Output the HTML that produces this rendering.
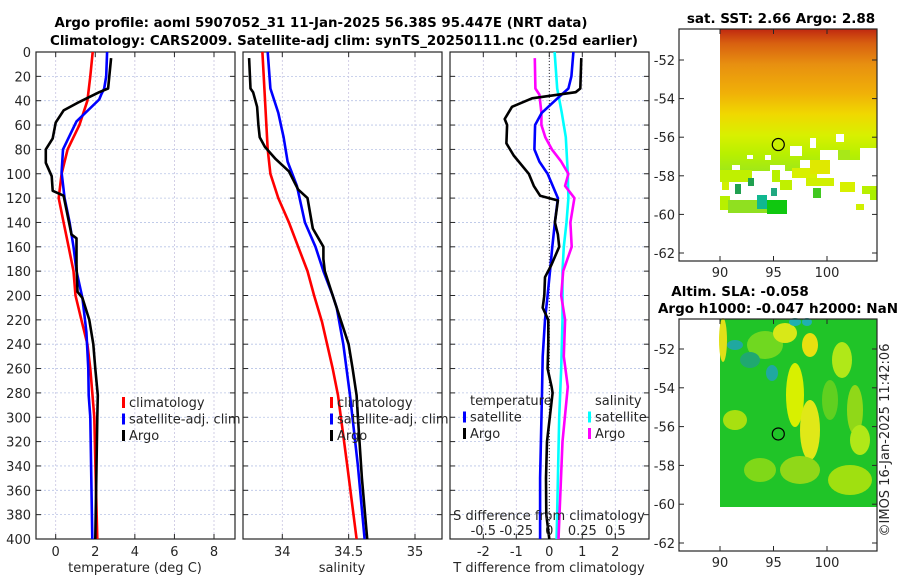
<!DOCTYPE html>
<html><head><meta charset="utf-8"><style>
html,body{margin:0;padding:0;background:#fff;}
svg{display:block;font-family:"DejaVu Sans","Liberation Sans",sans-serif;}
.tk{font-size:13px;fill:#262626;}
.tt{font-size:13.5px;font-weight:bold;fill:#000;}
</style></head><body>
<svg id="fig" width="900" height="580" viewBox="0 0 900 580">
<text class="tt" x="321" y="27" text-anchor="middle" textLength="533" lengthAdjust="spacingAndGlyphs">Argo profile: aoml 5907052_31 11-Jan-2025 56.38S 95.447E (NRT data)</text>
<text class="tt" x="344" y="45" text-anchor="middle" textLength="588" lengthAdjust="spacingAndGlyphs">Climatology: CARS2009. Satellite-adj clim: synTS_20250111.nc (0.25d earlier)</text>
<g id="p1"></g>
<g id="p2"></g>
<g id="p3"></g>
<g id="m1"></g>
<g id="m2"></g>
<text class="tk" transform="translate(889,440) rotate(-90)" text-anchor="middle">©IMOS 16-Jan-2025 11:42:06</text>
</svg>
<script>
// depth ticks
const depthTicks=[0,20,40,60,80,100,120,140,160,180,200,220,240,260,280,300,320,340,360,380,400];
// Panel 1: temperature
const tTicks=[0,2,4,6,8];
const tClimD=[0,20,40,60,80,100,120,140,160,180,200,220,240,260,280,300,350,400];
const tClim=[1.87,1.75,1.6,1.2,0.6,0.3,0.15,0.4,0.65,0.9,1.0,1.3,1.6,1.75,1.85,1.95,2.02,2.1];
const tSatD=[0,20,30,35,39,57,80,99,120,140,160,180,202,230,260,282,300,350,400];
const tSat=[2.6,2.55,2.45,2.3,2.2,1.05,0.37,0.3,0.45,0.7,0.9,1.05,1.35,1.55,1.65,1.67,1.75,1.8,1.85];
const tArgoD=[5,30,33,41,48,58,71,80,91,102,114,118,150,153,175,197,202,220,240,260,282,300,350,400];
const tArgo=[2.8,2.65,2.2,1.2,0.4,0.0,-0.15,-0.5,-0.5,-0.2,-0.15,0.4,0.8,1.05,1.05,1.1,1.35,1.7,1.9,2.0,2.13,2.1,2.05,2.0];
// Panel 2: salinity
const sTicks=[34,34.5,35];
const sClimD=[0,80,100,120,140,160,180,200,222,260,282,340,400];
const sClim=[33.85,33.89,33.91,33.97,34.05,34.12,34.19,34.24,34.30,34.38,34.42,34.49,34.56];
const sSatD=[0,30,50,70,90,110,140,160,180,200,210,240,282,340,400];
const sSat=[33.89,33.91,33.97,34.01,34.04,34.11,34.17,34.25,34.31,34.38,34.41,34.46,34.51,34.57,34.62];
const sArgoD=[5,30,33,45,60,70,78,88,98,113,120,145,160,170,180,200,240,260,282,300,350,400];
const sArgo=[33.75,33.76,33.78,33.81,33.82,33.83,33.87,33.95,34.05,34.12,34.19,34.23,34.31,34.31,34.32,34.38,34.5,34.53,34.56,34.57,34.6,34.64];
// Panel 3: differences
const dTTicks=[-2,-1,0,1,2];
const dSTicks=[-0.5,-0.25,0,0.25,0.5];
const dSTickLabels=["-0.5","-0.25","0","0.25","0.5"];
const dTSatD=[0,20,30,40,50,60,80,90,100,120,140,160,180,200,220,250,280,350,400];
const dTSat=[0.73,0.67,0.58,0.17,-0.23,-0.43,-0.45,-0.3,-0.05,0.26,0.17,0.09,0.02,-0.05,-0.13,-0.2,-0.22,-0.28,-0.28];
const dTArgoD=[5,30,33,38,45,55,60,75,85,100,110,118,122,140,150,160,175,185,200,210,220,240,260,275,280,320,350,380,400];
const dTArgo=[0.97,0.94,0.8,-0.52,-1.13,-1.35,-1.28,-1.3,-1.08,-0.62,-0.47,-0.28,0.26,0.17,0.26,0.3,0.06,-0.13,-0.15,-0.2,-0.03,-0.03,-0.05,0.07,0.1,-0.07,-0.1,-0.09,0.0];
const dSSatD=[0,30,50,70,100,120,140,160,180,220,260,300,350,400];
const dSSat=[0.04,0.06,0.095,0.125,0.14,0.145,0.13,0.11,0.1,0.1,0.09,0.075,0.065,0.055];
const dSArgoD=[5,30,35,50,60,70,80,90,100,110,120,140,160,180,200,220,250,275,320,400];
const dSArgo=[-0.11,-0.105,-0.075,-0.06,-0.06,-0.03,0.02,0.09,0.145,0.12,0.19,0.16,0.17,0.105,0.09,0.12,0.11,0.14,0.1,0.07];
// Map axes
const lonTicks=[90,95,100];
const latTicks=[-52,-54,-56,-58,-60,-62];
const argoLon=95.447, argoLat=-56.38;

const NS="http://www.w3.org/2000/svg";
function mk(parent,tag,attrs){const e=document.createElementNS(NS,tag);for(const k in attrs)e.setAttribute(k,attrs[k]);parent.appendChild(e);return e;}
const Y0=52,Y1=539;
function yD(d){return Y0+(Y1-Y0)*d/400;}
function lin(d0,d1,r0,r1){return v=>r0+(v-d0)*(r1-r0)/(d1-d0);}

function frame(g,x0,x1,xTicks,xs,labels,leftLabels){
  depthTicks.forEach(d=>{
    const l=mk(g,'line',{x1:x0,x2:x1,y1:yD(d),y2:yD(d),stroke:'#b8c4e6','stroke-width':0.8,'stroke-dasharray':'2,2'});
    
  });
  xTicks.forEach(t=>{
    const x=xs(t);
    const l=mk(g,'line',{x1:x,x2:x,y1:Y0,y2:Y1,stroke:'#c8c4e0','stroke-width':0.8,'stroke-dasharray':'2,2'});
    
  });
  const r=mk(g,'rect',{x:x0,y:Y0,width:x1-x0,height:Y1-Y0,fill:'none',stroke:'#262626','stroke-width':1.2});
  
  depthTicks.forEach(d=>{
    mk(g,'line',{x1:x0,x2:x0+5,y1:yD(d),y2:yD(d),stroke:'#262626'});
    mk(g,'line',{x1:x1-5,x2:x1,y1:yD(d),y2:yD(d),stroke:'#262626'});
    if(leftLabels){
      const t=mk(g,'text',{x:x0-5,y:yD(d)+5,'text-anchor':'end',class:'tk'});t.textContent=d;
      
    }
  });
  xTicks.forEach((tv,i)=>{
    const x=xs(tv);
    mk(g,'line',{x1:x,x2:x,y1:Y1,y2:Y1-5,stroke:'#262626'});
    mk(g,'line',{x1:x,x2:x,y1:Y0,y2:Y0+5,stroke:'#262626'});
    const t=mk(g,'text',{x:x,y:556,'text-anchor':'middle',class:'tk'});t.textContent=labels?labels[i]:tv;
    
  });
}
function line(g,xs,vals,ds,color,name){
  const pts=vals.map((v,i)=>xs(v).toFixed(1)+','+yD(ds[i]).toFixed(1)).join(' ');
  const p=mk(g,'polyline',{points:pts,fill:'none',stroke:color,'stroke-width':2.6,'stroke-linejoin':'round'});
  
}
function legend(g,x,y,items){
  items.forEach((it,i)=>{
    const yy=y+i*16.5;
    if(it.c){mk(g,'rect',{x:x,y:yy-10,width:3,height:11,fill:it.c});}
    const t=mk(g,'text',{x:x+(it.c?7:0),y:yy,class:'tk'});t.textContent=it.t;
    
  });
}
// Panel 1
const p1=document.getElementById('p1');
const xT=lin(0,8,55.7,214);
frame(p1,36,235,tTicks,xT,null,true);
line(p1,xT,tClim,tClimD,'#ff0000','temp-climatology-line');
line(p1,xT,tSat,tSatD,'#0000ff','temp-satellite-line');
line(p1,xT,tArgo,tArgoD,'#000000','temp-argo-line');
legend(p1,122,407,[{c:'#ff0000',t:'climatology'},{c:'#0000ff',t:'satellite-adj. clim'},{c:'#000',t:'Argo'}]);
let t=mk(p1,'text',{x:135,y:572,'text-anchor':'middle',class:'tk'});t.textContent='temperature (deg C)';

// Panel 2
const p2=document.getElementById('p2');
const xS=lin(34,35,282.3,415);
frame(p2,243,442,sTicks,xS,null,false);
line(p2,xS,sClim,sClimD,'#ff0000','sal-climatology-line');
line(p2,xS,sSat,sSatD,'#0000ff','sal-satellite-line');
line(p2,xS,sArgo,sArgoD,'#000000','sal-argo-line');
legend(p2,330,407,[{c:'#ff0000',t:'climatology'},{c:'#0000ff',t:'satellite-adj. clim'},{c:'#000',t:'Argo'}]);
t=mk(p2,'text',{x:342,y:572,'text-anchor':'middle',class:'tk'});t.textContent='salinity';

// Panel 3
const p3=document.getElementById('p3');
const xDT=lin(0,1,549.3,582.3);
const xDS=v=>xDT(v*4);
frame(p3,450,649,dTTicks,xDT,null,false);
mk(p3,'line',{x1:xDT(0),x2:xDT(0),y1:Y0,y2:Y1,stroke:'#333','stroke-width':1,'stroke-dasharray':'1,2'});
line(p3,xDS,dSSat,dSSatD,'#00ffff','sdiff-satellite-line');
line(p3,xDS,dSArgo,dSArgoD,'#ff00ff','sdiff-argo-line');
line(p3,xDT,dTSat,dTSatD,'#0000ff','tdiff-satellite-line');
line(p3,xDT,dTArgo,dTArgoD,'#000000','tdiff-argo-line');
legend(p3,463,405,[{c:null,t:''},{c:'#0000ff',t:'satellite'},{c:'#000',t:'Argo'}]);
t=mk(p3,'text',{x:470,y:405,class:'tk'});t.textContent='temperature';

legend(p3,588,405,[{c:null,t:''},{c:'#00ffff',t:'satellite'},{c:'#ff00ff',t:'Argo'}]);
t=mk(p3,'text',{x:595,y:405,class:'tk'});t.textContent='salinity';

t=mk(p3,'text',{x:549,y:520,'text-anchor':'middle',class:'tk'});t.textContent='S difference from climatology';

dSTicks.forEach((v,i)=>{const e=mk(p3,'text',{x:xDS(v),y:535,'text-anchor':'middle',class:'tk'});e.textContent=dSTickLabels[i];
});
t=mk(p3,'text',{x:549,y:572,'text-anchor':'middle',class:'tk'});t.textContent='T difference from climatology';


// Maps
function mapFrame(g,y0,y1,lat0,pxPerDeg,drawData,titles,marker){
  const xL=lin(90,100,720,827);
  const yL=v=>lat0+(-52-v)*pxPerDeg;
  drawData(g,xL,yL);
  const r=mk(g,'rect',{x:679,y:y0,width:198,height:y1-y0,fill:'none',stroke:'#262626','stroke-width':1.2});
  
  latTicks.forEach(v=>{const y=yL(v);
    mk(g,'line',{x1:679,x2:684,y1:y,y2:y,stroke:'#262626'});mk(g,'line',{x1:872,x2:877,y1:y,y2:y,stroke:'#262626'});
    const e=mk(g,'text',{x:675,y:y+5,'text-anchor':'end',class:'tk'});e.textContent=v;
    });
  lonTicks.forEach(v=>{const x=xL(v);
    mk(g,'line',{x1:x,x2:x,y1:y1,y2:y1-5,stroke:'#262626'});mk(g,'line',{x1:x,x2:x,y1:y0,y2:y0+5,stroke:'#262626'});
    const e=mk(g,'text',{x:x,y:y1+16,'text-anchor':'middle',class:'tk'});e.textContent=v;
    });
  titles.forEach(tt=>{const e=mk(g,'text',{x:tt[0],y:tt[1],'text-anchor':'middle',class:'tt'});e.textContent=tt[2];
    });
  const c=mk(g,'circle',{cx:xL(argoLon),cy:yL(argoLat),r:6,fill:marker,stroke:'#000','stroke-width':1.2});
  
}
const m1=document.getElementById('m1');
mapFrame(m1,29,261,60,19.3,(g,xL,yL)=>{
  const defs=mk(g,'defs',{});
  const lg=mk(defs,'linearGradient',{id:'sstg',x1:0,y1:0,x2:0,y2:1});
  [[0,'#c02810'],[0.1,'#d86010'],[0.25,'#e89010'],[0.45,'#f0b008'],[0.6,'#f0d800'],[0.75,'#d8f000'],[0.88,'#b8f000'],[1,'#a0e818']].forEach(s=>mk(lg,'stop',{offset:s[0],'stop-color':s[1]}));
  mk(g,'rect',{x:720,y:29,width:157,height:142,fill:'url(#sstg)'});
  const w='#fff';
  [[765,155,6,5],[732,165,8,6],[747,155,6,4],[790,146,12,10],[810,138,6,10],[836,134,8,8],[860,148,17,12],[820,150,20,10],[800,160,77,12],[720,171,6,4],[770,165,15,6]].forEach(b=>mk(g,'rect',{x:b[0],y:b[1],width:b[2],height:b[3],fill:w}));
  [[720,170,32,12,'#c0f000'],[722,182,7,8,'#d0f000'],[772,170,8,12,'#b8f000'],[792,168,25,10,'#d8f000'],[810,160,20,14,'#e0e800'],[838,150,12,10,'#a8e818'],[880,0,0,0,'#fff'],[720,196,10,14,'#b8f000'],[728,200,45,13,'#90e020'],[767,200,20,14,'#10c810'],[757,195,10,14,'#10b890'],[735,184,6,10,'#20a050'],[771,188,6,8,'#20a880'],[780,180,12,10,'#c0f000'],[806,178,28,8,'#d0f000'],[813,188,8,10,'#40c820'],[840,182,15,10,'#d8f000'],[862,186,15,8,'#b8f000'],[856,204,8,6,'#d0f000'],[870,190,7,10,'#a8f000'],[748,178,6,8,'#20a050']].forEach(b=>mk(g,'rect',{x:b[0],y:b[1],width:b[2],height:b[3],fill:b[4]}));
},[[781,23,'sat. SST: 2.66 Argo: 2.88']],'#c8f000');
const m2=document.getElementById('m2');
mapFrame(m2,319,551,349,19.4,(g,xL,yL)=>{
  mk(g,'rect',{x:720,y:319,width:157,height:188,fill:'#20c428'});
  [[765,345,18,14,'#70d820'],[785,333,12,10,'#d8e818'],[810,345,8,12,'#e8e010'],[795,395,9,32,'#d8f000'],[810,430,10,30,'#e0e818'],[842,360,10,18,'#b0e818'],[723,340,4,22,'#e0e018'],[735,420,12,10,'#a8e010'],[760,470,16,12,'#80d818'],[855,410,8,25,'#90d818'],[830,400,8,20,'#60d020'],[800,470,20,14,'#90d818'],[850,480,22,15,'#a0e010'],[860,440,10,15,'#b0e818']].forEach(e=>mk(g,'ellipse',{cx:e[0],cy:e[1],rx:e[2],ry:e[3],fill:e[4]}));
  [[735,345,8,5,'#20a8a0'],[772,373,6,8,'#20a8a0'],[750,360,10,8,'#20a870'],[795,322,6,4,'#20b0b0'],[807,322,5,4,'#20b0b0']].forEach(e=>mk(g,'ellipse',{cx:e[0],cy:e[1],rx:e[2],ry:e[3],fill:e[4]}));
},[[740,296,'Altim. SLA: -0.058'],[778,313,'Argo h1000: -0.047 h2000: NaN']],'#20c428');
</script>
</body></html>
